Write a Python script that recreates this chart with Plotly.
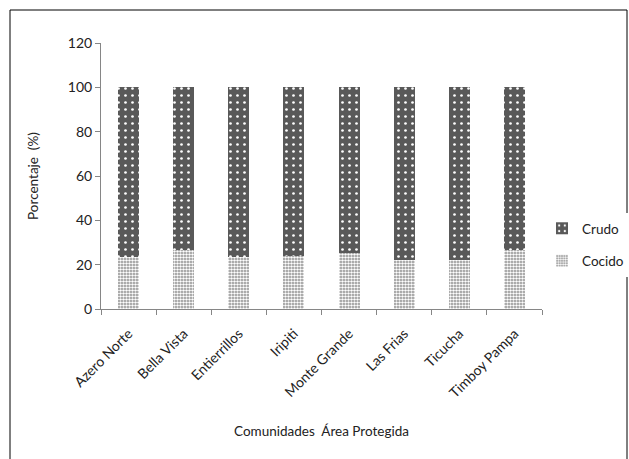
import plotly.graph_objects as go

categories = ["Azero Norte", "Bella Vista", "Entierrillos", "Iripiti",
              "Monte Grande", "Las Frias", "Ticucha", "Timboy Pampa"]
cocido = [23.4, 26.4, 23.4, 23.8, 25.2, 21.9, 21.9, 26.4]
crudo = [76.6, 73.6, 76.6, 76.2, 74.8, 78.1, 78.1, 73.6]

FONT = "Lato"
fig = go.Figure()
fig.add_trace(go.Bar(
    x=categories, y=cocido, name="Cocido", legendgroup="b", legendrank=2,
    marker=dict(color="#8a8a8a", line=dict(width=0),
                pattern=dict(shape=".", fgcolor="white", bgcolor="#8a8a8a",
                             size=3, solidity=0.55, fillmode="replace")),
))
fig.add_trace(go.Bar(
    x=categories, y=crudo, name="Crudo", legendgroup="a", legendrank=1,
    marker=dict(color="#595959", line=dict(width=0),
                pattern=dict(shape=".", fgcolor="white", bgcolor="#595959",
                             size=7, solidity=0.12, fillmode="replace")),
))

L, R, T, B = 101, 87, 43, 150
W, H = 629, 459
pw, ph = W - L - R, H - T - B

fig.update_layout(
    width=W, height=H, barmode="stack", bargap=0.62,
    margin=dict(l=L, r=R, t=T, b=B, autoexpand=False),
    paper_bgcolor="white", plot_bgcolor="white",
    font=dict(family=FONT, size=13, color="#222"),
    legend=dict(x=(542 - L) / pw, y=(309 - 213) / ph, xanchor="left", yanchor="top",
                traceorder="grouped", tracegroupgap=12,
                font=dict(size=13.5)),
    xaxis=dict(showline=True, linecolor="#868686", linewidth=1,
               ticks="outside", tickson="boundaries", ticklen=5, tickcolor="#868686",
               tickangle=-45, tickfont=dict(size=14), ticklabelstandoff=10,
               title=dict(text="Comunidades  Área Protegida", standoff=26,
                          font=dict(size=13.5))),
    yaxis=dict(range=[0, 120], dtick=20, showgrid=False, zeroline=False,
               showline=True, linecolor="#868686", linewidth=1,
               ticks="outside", ticklen=5, tickcolor="#868686",
               tickfont=dict(size=14),
               title=dict(text="Porcentaje  (%)", standoff=26, font=dict(size=13.5))),
    shapes=[dict(type="rect", xref="paper", yref="paper",
                 x0=(10 - L) / pw, x1=(627 - L) / pw,
                 y0=(309 - 470) / ph, y1=(309 - 10) / ph,
                 line=dict(color="black", width=1), fillcolor="rgba(0,0,0,0)")],
)
fig.write_html("out.html")
